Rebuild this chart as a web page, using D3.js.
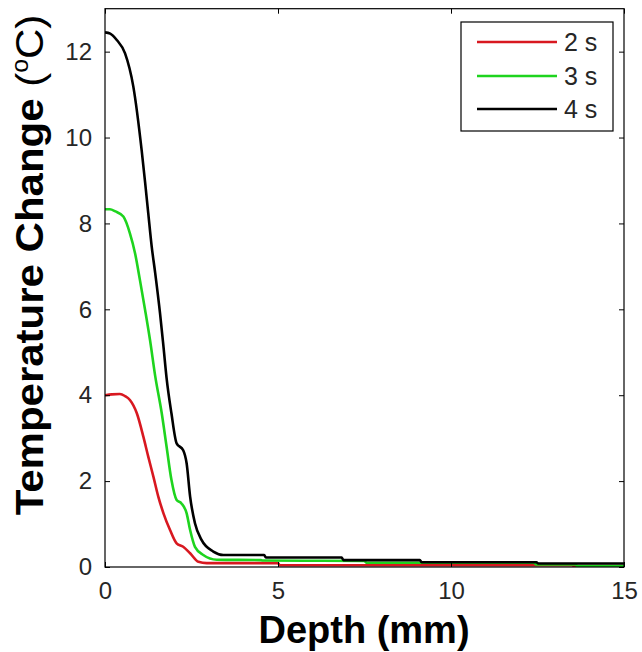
<!DOCTYPE html>
<html><head><meta charset="utf-8">
<script src="https://cdn.jsdelivr.net/npm/d3@7"></script>
<style>body{margin:0;background:#fff}svg{display:block}</style>
</head><body>
<svg id="c" width="642" height="652"></svg>
<script>
const seriesNames = ["2 s", "3 s", "4 s"];
const seriesColors = ["#d81820", "#1ed41e", "#000000"];
const xTicks = [0, 5, 10, 15];
const yTicks = [0, 2, 4, 6, 8, 10, 12];

const depth2 = [0, 0.2, 0.43, 0.58, 0.72, 0.92, 1.11, 1.25, 1.40, 1.54, 1.69, 1.88, 2.07, 2.26, 2.46, 2.70, 2.94, 3.5, 5.0, 5.05, 8, 12, 13.5, 13.55, 15];
const temp2  = [4.00, 4.02, 4.03, 3.98, 3.89, 3.58, 3.03, 2.57, 2.10, 1.64, 1.25, 0.86, 0.55, 0.47, 0.32, 0.12, 0.09, 0.09, 0.09, 0.04, 0.04, 0.04, 0.04, 0.02, 0.02];

const depth3 = [0, 0.14, 0.3, 0.53, 0.72, 0.87, 1.01, 1.16, 1.30, 1.45, 1.64, 1.78, 1.92, 2.07, 2.21, 2.36, 2.46, 2.60, 2.84, 3.23, 4.5, 4.55, 7.5, 7.55, 12.4, 12.45, 13.6, 13.65, 15];
const temp3  = [8.33, 8.33, 8.28, 8.16, 7.77, 7.30, 6.68, 5.98, 5.29, 4.45, 3.58, 2.80, 2.03, 1.56, 1.48, 1.25, 0.86, 0.47, 0.28, 0.17, 0.16, 0.15, 0.14, 0.10, 0.10, 0.06, 0.06, 0.02, 0.02];

const depth4 = [0, 0.15, 0.34, 0.58, 0.82, 1.06, 1.16, 1.25, 1.35, 1.45, 1.59, 1.69, 1.78, 1.92, 2.07, 2.26, 2.36, 2.46, 2.60, 2.79, 3.13, 3.42, 4.6, 4.65, 6.84, 6.89, 9.1, 9.15, 12.47, 12.52, 15];
const temp4  = [12.45, 12.42, 12.27, 11.96, 11.18, 9.70, 8.95, 8.24, 7.46, 6.85, 5.91, 5.13, 4.40, 3.58, 2.88, 2.72, 2.41, 1.64, 1.02, 0.63, 0.36, 0.28, 0.28, 0.22, 0.22, 0.16, 0.16, 0.11, 0.11, 0.08, 0.08];

const series = [
  {name: seriesNames[0], color: seriesColors[0], xs: depth2, ys: temp2},
  {name: seriesNames[1], color: seriesColors[1], xs: depth3, ys: temp3},
  {name: seriesNames[2], color: seriesColors[2], xs: depth4, ys: temp4}
];

const L = 105, R = 624, T = 8.7, B = 567;
const svg = d3.select("#c");
const x = d3.scaleLinear().domain([0, 15]).range([L, R]);
const y = d3.scaleLinear().domain([0, 13]).range([B, T]);

svg.append("defs").append("clipPath").attr("id", "clip")
  .append("rect").attr("x", L).attr("y", T).attr("width", R - L).attr("height", B - T);

const line = d3.line().x(d => x(d[0])).y(d => y(d[1])).curve(d3.curveMonotoneX);
const gLines = svg.append("g").attr("clip-path", "url(#clip)");
series.forEach(s => {
  gLines.append("path")
    .datum(s.xs.map((v, i) => [v, s.ys[i]]))
    .attr("d", line).attr("fill", "none")
    .attr("stroke", s.color).attr("stroke-width", 2.6)
    .attr("stroke-linejoin", "round");
});

const font = "'Liberation Sans', Arial, sans-serif";
function styleAxis(g) {
  g.select(".domain").remove();
  g.selectAll("line").attr("stroke", "#000").attr("stroke-width", 1);
  g.selectAll("text").attr("font-family", font).attr("font-size", 24).attr("fill", "#262626");
}
svg.append("g").attr("transform", `translate(0,${B})`)
  .call(d3.axisBottom(x).tickValues(xTicks).tickSize(-5).tickPadding(15).tickFormat(d3.format("d"))).call(styleAxis);
svg.append("g").attr("transform", `translate(0,${T})`)
  .call(d3.axisTop(x).tickValues(xTicks).tickSize(-5).tickFormat("")).call(styleAxis);
svg.append("g").attr("transform", `translate(${L},0)`)
  .call(d3.axisLeft(y).tickValues(yTicks).tickSize(-5).tickPadding(13).tickFormat(d3.format("d"))).call(styleAxis);
svg.append("g").attr("transform", `translate(${R},0)`)
  .call(d3.axisRight(y).tickValues(yTicks).tickSize(-5).tickFormat("")).call(styleAxis);

svg.append("rect").attr("x", L).attr("y", T).attr("width", R - L).attr("height", B - T)
  .attr("fill", "none").attr("stroke", "#000").attr("stroke-width", 1.2);

// legend
const lg = svg.append("g");
lg.append("rect").attr("x", 461).attr("y", 22).attr("width", 152).attr("height", 109)
  .attr("fill", "#fff").attr("stroke", "#000").attr("stroke-width", 1.2);
const legY = [42, 76, 109];
series.forEach((s, i) => {
  lg.append("line").attr("x1", 477).attr("x2", 557).attr("y1", legY[i]).attr("y2", legY[i])
    .attr("stroke", s.color).attr("stroke-width", 2.6);
  lg.append("text").attr("x", 564).attr("y", legY[i]).attr("dy", "0.35em")
    .attr("font-family", font).attr("font-size", 25).attr("fill", "#262626").text(s.name);
});

// axis labels
svg.append("text").attr("x", 364).attr("y", 643).attr("text-anchor", "middle")
  .attr("font-family", font).attr("font-size", 38).attr("font-weight", "bold").text("Depth (mm)");

const yl = svg.append("text").attr("text-anchor", "middle")
  .attr("transform", "translate(43,265) rotate(-90) scale(1.077,1)")
  .attr("font-family", font).attr("font-size", 39);
yl.append("tspan").attr("font-weight", "bold").text("Temperature Change ");
yl.append("tspan").text("(");
yl.append("tspan").attr("font-size", 23).attr("dy", -15).text("o");
yl.append("tspan").attr("dy", 15).text("C)");
</script>
</body></html>
